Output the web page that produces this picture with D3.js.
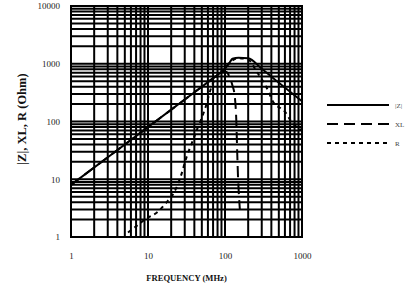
<!DOCTYPE html>
<html>
<head>
<meta charset="utf-8">
<script src="https://cdn.jsdelivr.net/npm/d3@7"></script>
<style>
  body { margin: 0; background: #fff; }
  svg { display: block; }
  text { font-family: "Liberation Serif", "DejaVu Serif", serif; }
</style>
</head>
<body>
<div id="chart"></div>
<script>
// impedance curves (MHz, Ohm)
const zFreq  = [1, 10, 30, 60, 80, 90, 100, 115, 125, 150, 200, 300, 500, 1000];
const zVals  = [8, 80, 240, 480, 640, 720, 820, 1050, 1220, 1270, 1250, 820, 470, 225];

const xlFreq = [1, 10, 50, 80, 95, 105, 115, 125, 134, 140, 144, 148, 152, 156];
const xlVals = [8, 80, 400, 640, 730, 720, 580, 420, 270, 110, 30, 10, 5, 3];

const rFreq  = [5.5, 7.1, 9.6, 13.5, 16.6, 23, 26.5, 31.9, 37, 43, 48.6, 55, 66, 74, 100, 120, 150, 200, 258, 360, 420, 600, 730, 890, 1000];
const rVals  = [1.2, 1.55, 2.1, 2.75, 3.7, 6.8, 11, 25, 42, 71, 106, 165, 380, 545, 850, 1100, 1250, 1180, 730, 350, 220, 148, 99, 77, 70];

const xTicks = [1, 10, 100, 1000];
const yTicks = [1, 10, 100, 1000, 10000];

const legendItems = ["|Z|", "XL", "R"];
const legendDash = ["none", "11,6", "4,4"];

// layout
const W = 416, H = 291;
const plot = {left: 71, right: 302, top: 6, bottom: 237};

const svg = d3.select("#chart").append("svg")
  .attr("width", W)
  .attr("height", H);

svg.append("rect").attr("width", W).attr("height", H).attr("fill", "#fff");

const x = d3.scaleLog().domain([1, 1000]).range([plot.left, plot.right]);
const y = d3.scaleLog().domain([1, 10000]).range([plot.bottom, plot.top]);

//minor + major grid values (1..9 per decade)
function gridVals(lo, hi){
  let out = [];
  for(let d = lo; d < hi; d *= 10){
    for(let k = 1; k < 10; k++) out.push(d * k);
  }
  out.push(hi);
  return out;
}

let grid = svg.append("g").attr("class", "grid");

grid.selectAll(".vline")
  .data(gridVals(1, 1000))
  .enter().append("line")
  .attr("x1", d => x(d)).attr("x2", d => x(d))
  .attr("y1", plot.top).attr("y2", plot.bottom)
  .attr("stroke", "#000")
  .attr("stroke-width", 2);

grid.selectAll(".hline")
  .data(gridVals(1, 10000))
  .enter().append("line")
  .attr("y1", d => y(d)).attr("y2", d => y(d))
  .attr("x1", plot.left).attr("x2", plot.right)
  .attr("stroke", "#000")
  .attr("stroke-width", 2);

// frame
svg.append("rect")
  .attr("x", plot.left).attr("y", plot.top)
  .attr("width", plot.right - plot.left)
  .attr("height", plot.bottom - plot.top)
  .attr("fill", "none")
  .attr("stroke", "#000")
  .attr("stroke-width", 2);

// axes (labels only, lines come from the grid)
let xAxis = svg.append("g")
  .attr("transform", "translate(0," + (plot.bottom + 13) + ")")
  .call(d3.axisBottom(x).tickValues(xTicks).tickFormat(d3.format("d")).tickSize(0));
xAxis.select(".domain").remove();
xAxis.selectAll("text")
  .attr("font-family", "Liberation Serif")
  .attr("font-size", 9)
  .attr("fill", "#222");

let yAxis = svg.append("g")
  .attr("transform", "translate(" + (plot.left - 8) + ",0)")
  .call(d3.axisLeft(y).tickValues(yTicks).tickFormat(d3.format("d")).tickSize(0));
yAxis.select(".domain").remove();
yAxis.selectAll("text")
  .attr("font-family", "Liberation Serif")
  .attr("font-size", 9)
  .attr("fill", "#222");

// axis titles
svg.append("text")
  .attr("x", (plot.left + plot.right) / 2)
  .attr("y", 281)
  .attr("text-anchor", "middle")
  .attr("font-size", 8.6)
  .attr("font-weight", "bold")
  .attr("fill", "#111")
  .text("FREQUENCY (MHz)");

svg.append("text")
  .attr("transform", "translate(26,119) rotate(-90)")
  .attr("text-anchor", "middle")
  .attr("font-size", 12.5)
  .attr("font-weight", "bold")
  .attr("fill", "#111")
  .text("|Z|, XL, R (Ohm)");

// curves
let line = d3.line()
  .curve(d3.curveMonotoneX)
  .x(d => x(d[0]))
  .y(d => y(d[1]));

let series = [
  d3.zip(zFreq, zVals),
  d3.zip(xlFreq, xlVals),
  d3.zip(rFreq, rVals)
];

svg.selectAll(".curve")
  .data(series)
  .enter().append("path")
  .attr("class", "curve")
  .attr("d", d => line(d))
  .attr("fill", "none")
  .attr("stroke", "#000")
  .attr("stroke-width", 2)
  .attr("stroke-dasharray", (d, i) => legendDash[i]);

// legend
let legend = svg.append("g").attr("class", "legend");
let lg = legend.selectAll("g")
  .data(legendItems)
  .enter().append("g")
  .attr("transform", (d, i) => "translate(327," + (105 + i * 19) + ")");

lg.append("line")
  .attr("x1", 0).attr("x2", 62)
  .attr("stroke", "#000")
  .attr("stroke-width", 2)
  .attr("stroke-dasharray", (d, i) => legendDash[i]);

lg.append("text")
  .attr("x", 68)
  .attr("y", 2.5)
  .attr("font-size", 7)
  .attr("fill", "#444")
  .text(d => d);
</script>
</body>
</html>
